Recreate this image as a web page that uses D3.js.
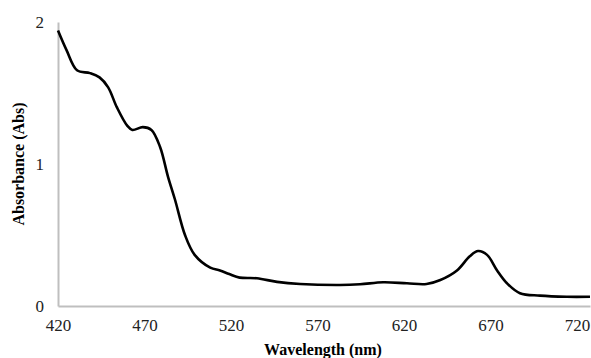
<!DOCTYPE html>
<html>
<head>
<meta charset="utf-8">
<script src="https://cdn.jsdelivr.net/npm/d3@7"></script>
<style>
  body { margin: 0; background: #fff; }
  svg text { font-family: "Liberation Serif", "Times New Roman", serif !important; }
</style>
</head>
<body>
<script>
// spectrum
var wavelength = [420, 425, 431, 438.5, 444, 449, 454, 460, 463, 469, 474, 479, 483.6, 487.6, 493.4, 499, 508, 513.6, 519, 525, 535, 546.6, 560, 583, 594.6, 608, 621.7, 633, 641, 650.6, 658, 662.8, 668, 673.8, 679.5, 687, 698.6, 714, 727.5];
var absorbance = [1.94, 1.80, 1.66, 1.64, 1.61, 1.54, 1.40, 1.27, 1.24, 1.26, 1.24, 1.12, 0.91, 0.75, 0.50, 0.36, 0.27, 0.25, 0.225, 0.20, 0.195, 0.17, 0.155, 0.148, 0.153, 0.167, 0.16, 0.155, 0.183, 0.25, 0.35, 0.387, 0.36, 0.25, 0.16, 0.09, 0.073, 0.065, 0.065];
var xTicks = [420, 470, 520, 570, 620, 670, 720];
var yTicks = [0, 1, 2];

var width = 591,
    height = 358;

var svg = d3.select("body").append("svg")
    .attr("width", width)
    .attr("height", height)
    .style("display", "block");

var x = d3.scaleLinear()
    .domain([420, 727.5])
    .range([58, 590]);

var y = d3.scaleLinear()
    .domain([0, 2])
    .range([306, 22]);

// axes: plain grey lines, no ticks
svg.append("g")
    .attr("transform", "translate(0," + y(0) + ")")
    .call(d3.axisBottom(x).tickValues(xTicks).tickSize(0).tickPadding(13))
    .call(function(g) {
        g.select(".domain").attr("stroke", "#bfbfbf").attr("stroke-width", 2);
        g.selectAll("text").style("font-size", "17px").attr("fill", "#222");
    });

svg.append("g")
    .attr("transform", "translate(" + x(420) + ",0)")
    .call(d3.axisLeft(y).tickValues(yTicks).tickFormat(d3.format("d")).tickSize(0).tickPadding(14))
    .call(function(g) {
        g.select(".domain").attr("stroke", "#bfbfbf").attr("stroke-width", 2);
        g.selectAll("text").style("font-size", "17px").attr("fill", "#222");
    });

var line = d3.line()
    .x(function(d, i) { return x(wavelength[i]); })
    .y(function(d) { return y(d); })
    .curve(d3.curveCatmullRom.alpha(0.5));

svg.append("path")
    .datum(absorbance)
    .attr("fill", "none")
    .attr("stroke", "#000")
    .attr("stroke-width", 2.6)
    .attr("d", line);

svg.append("text")
    .attr("x", 323)
    .attr("y", 355)
    .attr("text-anchor", "middle")
    .style("font-size", "16px")
    .style("font-weight", "bold")
    .text("Wavelength (nm)");

svg.append("text")
    .attr("transform", "translate(24,164) rotate(-90)")
    .attr("text-anchor", "middle")
    .style("font-size", "16px")
    .style("font-weight", "bold")
    .text("Absorbance (Abs)");
</script>
</body>
</html>
